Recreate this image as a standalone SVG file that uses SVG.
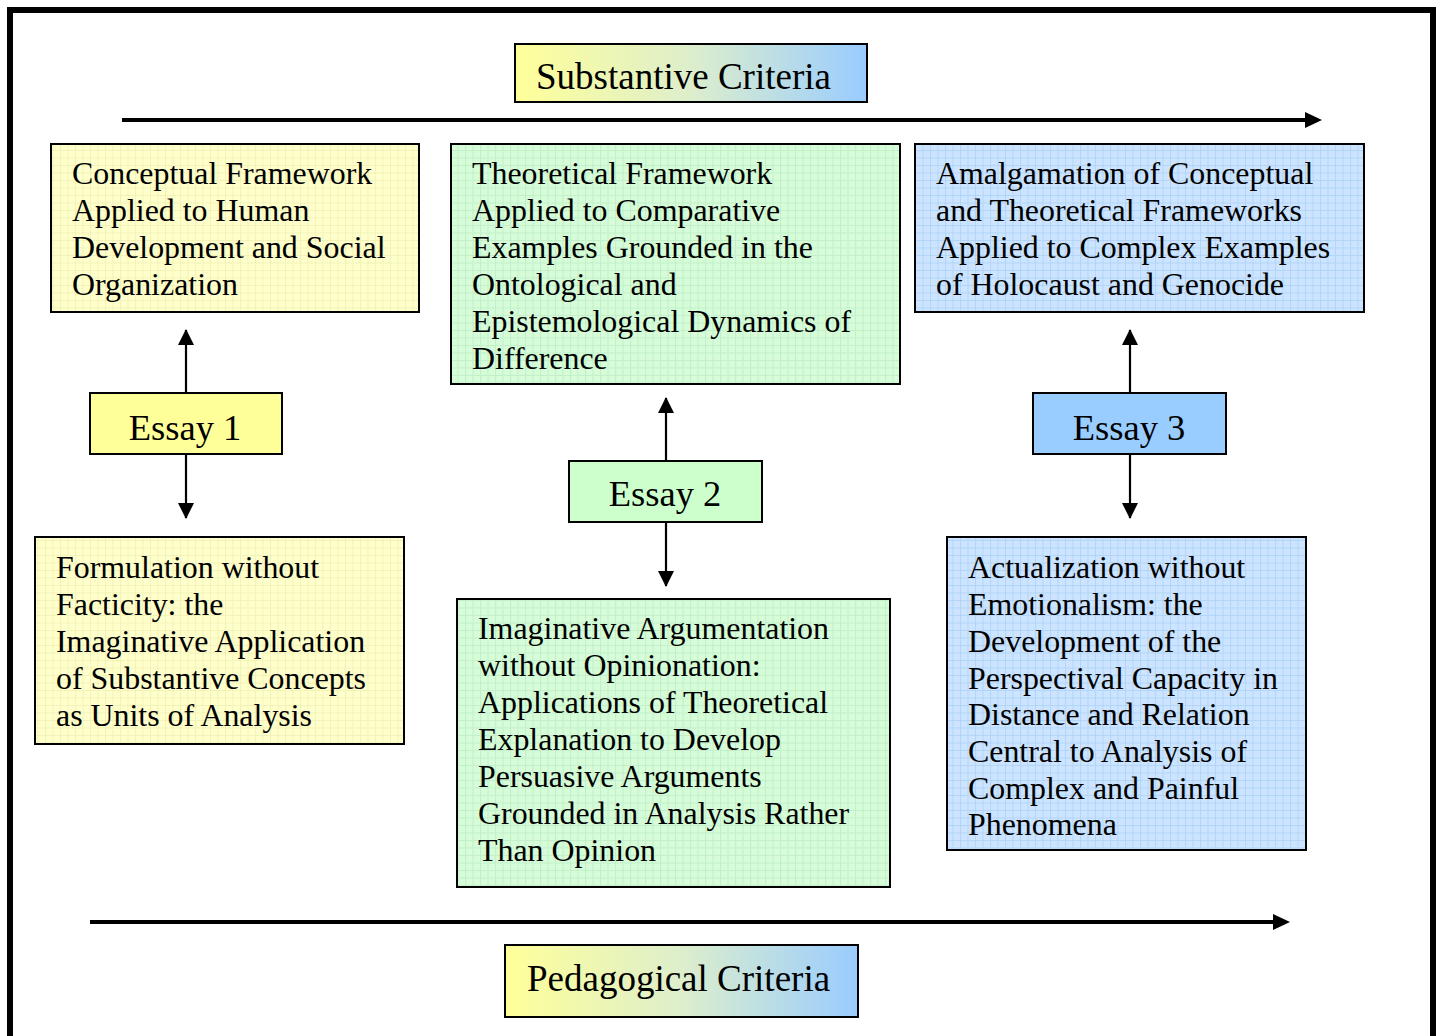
<svg xmlns="http://www.w3.org/2000/svg" width="1440" height="1036" viewBox="0 0 1440 1036">
<defs>
<linearGradient id="crit" x1="0" y1="0" x2="1" y2="0">
<stop offset="0" stop-color="#FFFF99"/>
<stop offset="0.5" stop-color="#DDEECC"/>
<stop offset="1" stop-color="#99CCFF"/>
</linearGradient>
<pattern id="gy" width="7.5" height="7.5" patternUnits="userSpaceOnUse">
<rect width="7.5" height="7.5" fill="#FFFFCC"/>
<path d="M0 0.5H7.5M0.5 0V7.5" stroke="#F2F2B8" stroke-width="1"/>
</pattern>
<pattern id="gg" width="7.5" height="7.5" patternUnits="userSpaceOnUse">
<rect width="7.5" height="7.5" fill="#D6FCD8"/>
<path d="M0 0.5H7.5M0.5 0V7.5" stroke="#C2F0CA" stroke-width="1"/>
</pattern>
<pattern id="gb" width="7.5" height="7.5" patternUnits="userSpaceOnUse">
<rect width="7.5" height="7.5" fill="#CCE4FF"/>
<path d="M0 0.5H7.5M0.5 0V7.5" stroke="#B2D4F7" stroke-width="1"/>
</pattern>
<marker id="ah" viewBox="0 0 16 16" markerWidth="16" markerHeight="16" refX="15" refY="8" orient="auto" markerUnits="userSpaceOnUse">
<path d="M0 0L16 8L0 16Z" fill="#000"/>
</marker>
</defs>
<style>
.box{stroke:#000;stroke-width:2}
.t{font-family:"Liberation Serif","Times New Roman",serif;font-size:31.9px;fill:#000}
.e{font-family:"Liberation Serif","Times New Roman",serif;font-size:36.5px;fill:#000}
.c{font-family:"Liberation Serif","Times New Roman",serif;font-size:37px;fill:#000}
.v{stroke:#000;stroke-width:2.2;fill:none}
.h{stroke:#000;stroke-width:4;fill:none}
</style>
<rect x="0" y="0" width="1440" height="1036" fill="#fff"/>
<rect x="10" y="10" width="1423" height="1050" fill="none" stroke="#000" stroke-width="6"/>

<g id="connectors">
<line class="h" x1="122" y1="120" x2="1306" y2="120"/>
<polygon points="1305,112 1322,120 1305,128" fill="#000"/>
<line class="h" x1="90" y1="922" x2="1274" y2="922"/>
<polygon points="1273,914 1290,922 1273,930" fill="#000"/>
<line class="v" x1="186" y1="393" x2="186" y2="330" marker-end="url(#ah)"/>
<line class="v" x1="186" y1="455" x2="186" y2="518" marker-end="url(#ah)"/>
<line class="v" x1="666" y1="461" x2="666" y2="398" marker-end="url(#ah)"/>
<line class="v" x1="666" y1="522" x2="666" y2="586" marker-end="url(#ah)"/>
<line class="v" x1="1130" y1="393" x2="1130" y2="330" marker-end="url(#ah)"/>
<line class="v" x1="1130" y1="455" x2="1130" y2="518" marker-end="url(#ah)"/>
</g>

<g id="substantive">
<rect class="box" x="515" y="44" width="352" height="58" fill="url(#crit)"/>
<text class="c" x="536" y="89">Substantive Criteria</text>
</g>

<g id="pedagogical">
<rect class="box" x="505" y="945" width="353" height="72" fill="url(#crit)"/>
<text class="c" x="527" y="991">Pedagogical Criteria</text>
</g>

<g id="conceptual">
<rect class="box" x="51" y="144" width="368" height="168" fill="url(#gy)"/>
<text class="t"><tspan x="72" y="184">Conceptual Framework</tspan><tspan x="72" y="221">Applied to Human</tspan><tspan x="72" y="258">Development and Social</tspan><tspan x="72" y="295">Organization</tspan></text>
</g>

<g id="theoretical">
<rect class="box" x="451" y="144" width="449" height="240" fill="url(#gg)"/>
<text class="t"><tspan x="472" y="184">Theoretical Framework</tspan><tspan x="472" y="221">Applied to Comparative</tspan><tspan x="472" y="258">Examples Grounded in the</tspan><tspan x="472" y="295">Ontological and</tspan><tspan x="472" y="332">Epistemological Dynamics of</tspan><tspan x="472" y="369">Difference</tspan></text>
</g>

<g id="amalgamation">
<rect class="box" x="915" y="144" width="449" height="168" fill="url(#gb)"/>
<text class="t"><tspan x="936" y="184">Amalgamation of Conceptual</tspan><tspan x="936" y="221">and Theoretical Frameworks</tspan><tspan x="936" y="258">Applied to Complex Examples</tspan><tspan x="936" y="295">of Holocaust and Genocide</tspan></text>
</g>

<g id="essay1">
<rect class="box" x="90" y="393" width="192" height="61" fill="#FFFF99"/>
<text class="e" x="185" y="440" text-anchor="middle">Essay 1</text>
</g>

<g id="essay2">
<rect class="box" x="569" y="461" width="193" height="61" fill="#CCFFCC"/>
<text class="e" x="665" y="506" text-anchor="middle">Essay 2</text>
</g>

<g id="essay3">
<rect class="box" x="1033" y="393" width="193" height="61" fill="#99CCFF"/>
<text class="e" x="1129" y="440" text-anchor="middle">Essay 3</text>
</g>

<g id="formulation">
<rect class="box" x="35" y="537" width="369" height="207" fill="url(#gy)"/>
<text class="t"><tspan x="56" y="578">Formulation without</tspan><tspan x="56" y="615">Facticity: the</tspan><tspan x="56" y="652">Imaginative Application</tspan><tspan x="56" y="689">of Substantive Concepts</tspan><tspan x="56" y="726">as Units of Analysis</tspan></text>
</g>

<g id="imaginative">
<rect class="box" x="457" y="599" width="433" height="288" fill="url(#gg)"/>
<text class="t"><tspan x="478" y="639">Imaginative Argumentation</tspan><tspan x="478" y="676">without Opinionation:</tspan><tspan x="478" y="713">Applications of Theoretical</tspan><tspan x="478" y="750">Explanation to Develop</tspan><tspan x="478" y="787">Persuasive Arguments</tspan><tspan x="478" y="824">Grounded in Analysis Rather</tspan><tspan x="478" y="861">Than Opinion</tspan></text>
</g>

<g id="actualization">
<rect class="box" x="947" y="537" width="359" height="313" fill="url(#gb)"/>
<text class="t"><tspan x="968" y="578">Actualization without</tspan><tspan x="968" y="615">Emotionalism: the</tspan><tspan x="968" y="652">Development of the</tspan><tspan x="968" y="689">Perspectival Capacity in</tspan><tspan x="968" y="725">Distance and Relation</tspan><tspan x="968" y="762">Central to Analysis of</tspan><tspan x="968" y="799">Complex and Painful</tspan><tspan x="968" y="835">Phenomena</tspan></text>
</g>
</svg>
